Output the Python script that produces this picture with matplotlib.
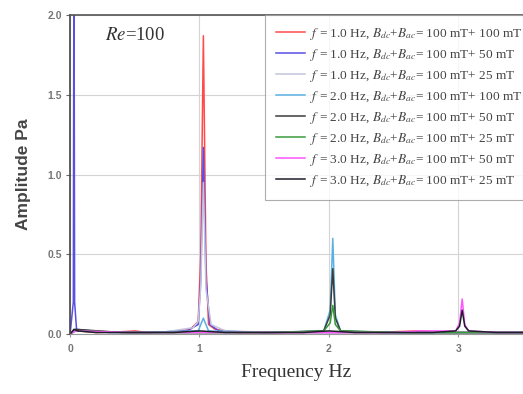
import matplotlib
matplotlib.use("Agg")
import matplotlib.pyplot as plt

plt.rcParams['font.family'] = ['Liberation Serif', 'DejaVu Serif']
plt.rcParams['mathtext.fontset'] = 'stix'

# spectra, one freq/amp pair per case
f1_b100_freq = [0.00, 0.03, 0.06, 0.20, 0.40, 0.50, 0.60, 0.80, 0.93, 0.99, 1.01, 1.03, 1.05, 1.07, 1.12, 1.30, 1.60, 2.00, 2.30, 2.70, 2.90, 3.20, 3.50]
f1_b100_amp = [0.00, 0.02, 0.02, 0.01, 0.015, 0.02, 0.01, 0.015, 0.03, 0.08, 0.50, 1.87, 0.45, 0.06, 0.03, 0.01, 0.01, 0.01, 0.01, 0.02, 0.01, 0.01, 0.01]

f1_b50_freq = [0.00, 0.025, 0.03, 0.035, 0.05, 0.30, 0.60, 0.90, 0.99, 1.01, 1.03, 1.05, 1.08, 1.15, 1.50, 2.00, 2.50, 3.00, 3.50]
f1_b50_amp = [0.00, 0.20, 2.60, 0.20, 0.03, 0.01, 0.01, 0.02, 0.06, 0.35, 1.17, 0.35, 0.06, 0.02, 0.01, 0.01, 0.01, 0.01, 0.01]

f1_b25_freq = [0.00, 0.04, 0.30, 0.70, 0.95, 0.99, 1.01, 1.03, 1.05, 1.09, 1.20, 1.60, 2.20, 2.80, 3.50]
f1_b25_amp = [0.00, 0.02, 0.01, 0.01, 0.04, 0.08, 0.30, 0.95, 0.28, 0.06, 0.02, 0.01, 0.01, 0.01, 0.01]

f2_b100_freq = [0.00, 0.04, 0.50, 0.99, 1.03, 1.07, 1.50, 1.96, 2.01, 2.03, 2.05, 2.09, 2.50, 3.00, 3.50]
f2_b100_amp = [0.00, 0.02, 0.01, 0.02, 0.10, 0.02, 0.01, 0.02, 0.15, 0.60, 0.12, 0.02, 0.01, 0.01, 0.01]

f2_b50_freq = [0.00, 0.04, 0.40, 0.90, 1.20, 1.60, 1.96, 2.01, 2.03, 2.05, 2.09, 2.40, 2.80, 3.20, 3.50]
f2_b50_amp = [0.00, 0.03, 0.01, 0.01, 0.01, 0.01, 0.02, 0.12, 0.41, 0.10, 0.02, 0.01, 0.01, 0.01, 0.01]

f2_b25_freq = [0.00, 0.04, 0.50, 1.00, 1.50, 1.96, 2.01, 2.03, 2.05, 2.09, 2.60, 3.10, 3.50]
f2_b25_amp = [0.00, 0.02, 0.01, 0.01, 0.01, 0.02, 0.07, 0.18, 0.06, 0.02, 0.01, 0.01, 0.01]

f3_b50_freq = [0.00, 0.04, 0.50, 1.00, 1.50, 2.00, 2.50, 2.70, 2.98, 3.01, 3.03, 3.05, 3.08, 3.30, 3.50]
f3_b50_amp = [0.00, 0.02, 0.01, 0.01, 0.01, 0.01, 0.01, 0.02, 0.02, 0.07, 0.22, 0.06, 0.02, 0.01, 0.01]

f3_b25_freq = [0.00, 0.03, 0.06, 0.20, 0.50, 0.80, 1.00, 1.20, 1.50, 1.80, 2.00, 2.20, 2.50, 2.80, 2.98, 3.01, 3.03, 3.05, 3.08, 3.30, 3.50]
f3_b25_amp = [0.00, 0.03, 0.02, 0.01, 0.01, 0.01, 0.02, 0.01, 0.01, 0.01, 0.02, 0.01, 0.01, 0.01, 0.02, 0.05, 0.15, 0.05, 0.02, 0.01, 0.01]

labels = [
    r'$f$ = 1.0 Hz, $B_{dc}$+$B_{ac}$= 100 mT+ 100 mT',
    r'$f$ = 1.0 Hz, $B_{dc}$+$B_{ac}$= 100 mT+ 50 mT',
    r'$f$ = 1.0 Hz, $B_{dc}$+$B_{ac}$= 100 mT+ 25 mT',
    r'$f$ = 2.0 Hz, $B_{dc}$+$B_{ac}$= 100 mT+ 100 mT',
    r'$f$ = 2.0 Hz, $B_{dc}$+$B_{ac}$= 100 mT+ 50 mT',
    r'$f$ = 2.0 Hz, $B_{dc}$+$B_{ac}$= 100 mT+ 25 mT',
    r'$f$ = 3.0 Hz, $B_{dc}$+$B_{ac}$= 100 mT+ 50 mT',
    r'$f$ = 3.0 Hz, $B_{dc}$+$B_{ac}$= 100 mT+ 25 mT',
]
colors = ['#ff4a4a', '#5a4ee6', '#c4c4dc', '#5ab0e2', '#3c3c3c', '#3a9a3a', '#ff55ff', '#1e1e2a']

series = [
    (f1_b100_freq, f1_b100_amp),
    (f1_b50_freq, f1_b50_amp),
    (f1_b25_freq, f1_b25_amp),
    (f2_b100_freq, f2_b100_amp),
    (f2_b50_freq, f2_b50_amp),
    (f2_b25_freq, f2_b25_amp),
    (f3_b50_freq, f3_b50_amp),
    (f3_b25_freq, f3_b25_amp),
]

fig = plt.figure(figsize=(5.23, 3.94), dpi=100)
ax = fig.add_axes([0.134, 0.152, 0.866, 0.810])

for (fr, am), lab, c in zip(series, labels, colors):
    ax.plot(fr, am, color=c, lw=1.1, label=lab)

ax.set_xlim(0, 3.5)
ax.set_ylim(0, 2.0)
ax.set_xticks([0, 1, 2, 3])
ax.set_yticks([0.0, 0.5, 1.0, 1.5, 2.0])
ax.set_yticklabels(['0.0', '0.5', '1.0', '1.5', '2.0'])
ax.grid(True, color='#d4d4d4', lw=0.8)
ax.set_axisbelow(True)
for lab in ax.get_xticklabels() + ax.get_yticklabels():
    lab.set_family('Liberation Sans')
    lab.set_fontsize(7.5)
    lab.set_weight('bold')
    lab.set_color('#777777')
ax.tick_params(axis='y', length=3, width=0.8, color='#666666', pad=3)
ax.tick_params(axis='x', length=2, width=0.8, color='#999999', pad=5)
ax.spines['right'].set_visible(False)
ax.spines['top'].set_color('#555555')
ax.spines['left'].set_color('#444444')
ax.spines['bottom'].set_color('#999999')
ax.spines['left'].set_linewidth(1.2)
ax.spines['top'].set_linewidth(1.2)

ax.set_xlabel('Frequency Hz', fontsize=14, color='#333333', labelpad=7)
ax.set_ylabel('Amplitude Pa', fontsize=12.5, color='#444444', labelpad=12,
              family='Liberation Sans', weight='bold')
ax.text(0.143, 0.937, r'$Re$=100', transform=ax.transAxes, fontsize=13.5,
        ha='center', va='center', color='#333333')

leg = ax.legend(loc='upper left', bbox_to_anchor=(0.43, 1.0), borderaxespad=0,
                fontsize=9.6, frameon=True, fancybox=False, handlelength=2.2,
                labelspacing=0.38, borderpad=0.8, handletextpad=0.4)
leg.get_frame().set_edgecolor('#999999')
leg.get_frame().set_linewidth(0.8)
for t in leg.get_texts():
    t.set_color('#444444')

fig.savefig('out.png', dpi=100)
